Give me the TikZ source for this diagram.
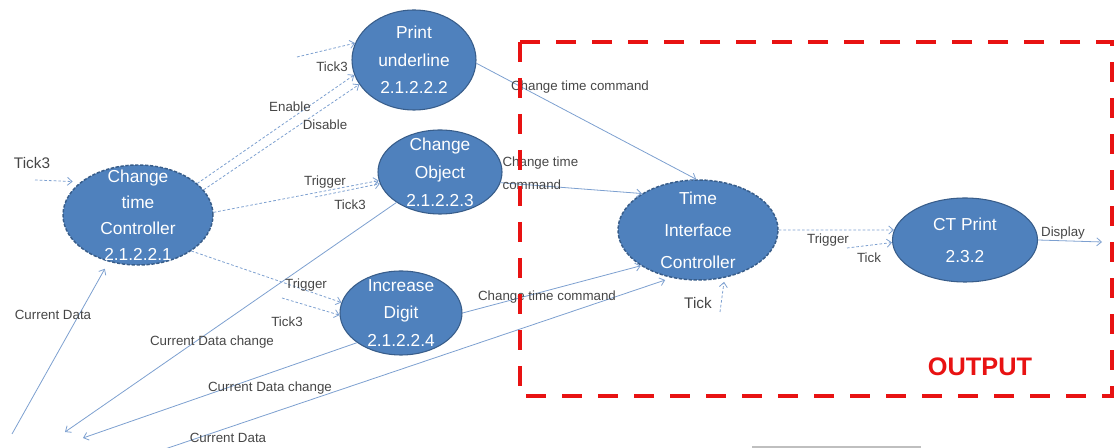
\documentclass[tikz,border=0pt]{standalone}
\usepackage{fontspec}
\setmainfont{Liberation Sans}
\usetikzlibrary{arrows.meta,shapes.geometric}
\definecolor{nodefill}{RGB}{79,129,189}
\definecolor{nodeline}{RGB}{56,93,138}
\definecolor{flow}{RGB}{125,160,208}
\definecolor{lbl}{RGB}{70,70,70}
\definecolor{outred}{RGB}{232,18,18}
\tikzset{
  proc/.style={ellipse, fill=nodefill, draw=nodeline, line width=0.8pt, inner sep=0pt},
  ctrl/.style={proc, dash pattern=on 2.5pt off 1.2pt, line width=1.1pt},
  ptext/.style={text=white, align=center, inner sep=0pt, font=\fontsize{13}{#1}\selectfont},
  flowline/.style={draw=flow, line width=0.6pt, -{Straight Barb[length=3.5pt,width=6pt]}},
  flowdash/.style={flowline, dash pattern=on 2pt off 1.5pt},
  lab/.style={text=lbl, font=\fontsize{10}{12}\selectfont, inner sep=1pt},
  biglab/.style={text=lbl, font=\fontsize{11.5}{13}\selectfont, inner sep=1pt},
}
\begin{document}
\begin{tikzpicture}[x=0.75pt,y=-0.75pt]
\useasboundingbox (0,0) rectangle (1115,448);
% processes
\node[ctrl, minimum width=112.5pt, minimum height=75pt,
  label={[ptext=19.5]center:{Change\\time\\Controller\\2.1.2.2.1}}] (ctc) at (138,215) {};
\node[proc, minimum width=93pt, minimum height=75pt,
  label={[ptext=20.6]center:{Print\\underline\\2.1.2.2.2}}] (pu) at (414,60) {};
\node[proc, minimum width=93pt, minimum height=63pt,
  label={[ptext=21]center:{Change\\Object\\2.1.2.2.3}}] (co) at (440,172) {};
\node[proc, minimum width=91.5pt, minimum height=63pt,
  label={[ptext=20.6]center:{Increase\\Digit\\2.1.2.2.4}}] (id) at (401,313) {};
\node[ctrl, minimum width=120pt, minimum height=75pt,
  label={[ptext=24]center:{Time\\Interface\\Controller}}] (tic) at (698,230) {};
\node[proc, minimum width=108.75pt, minimum height=63pt,
  label={[ptext=24]center:{CT Print\\2.3.2}}] (ctp) at (965,240) {};
% free ends
\coordinate (tin) at (35,180);
\coordinate (tpu) at (297,57);
\coordinate (tco) at (315,197);
\coordinate (tid) at (282,298);
\coordinate (cdsrc) at (12,434);
\coordinate (cdc1) at (65,432);
\coordinate (cdc2) at (83,438);
\coordinate (cdsrc2) at (165,449);
\coordinate (ttic) at (720,312);
\coordinate (tctp) at (847,248);
\coordinate (disp) at (1102,242);
% connectors
\draw[flowdash, shorten >=6pt] (tin) -- (ctc.150);
\draw[flowdash] (tpu) -- (pu.164);
\draw[flowdash] (ctc.28) -- (pu.194);
\draw[flowdash] (ctc.21) -- (pu.204);
\draw[flowdash] (ctc.2) -- (co.188);
\draw[flowdash] (tco) -- (co.191);
\draw[flowdash] (ctc.-34) -- (id.170);
\draw[flowdash] (tid) -- (id.182);
\draw[flowline, shorten >=6pt] (cdsrc) -- (ctc.238);
\draw[flowline] (co.215) -- (cdc1);
\draw[flowline] (id.214) -- (cdc2);
\draw[flowline, shorten >=5pt] (cdsrc2) -- (tic.241);
\draw[flowline] (pu.-3) -- (tic.92);
\draw[flowline] (co.-10) -- (tic.147);
\draw[flowline] (id.0) -- (tic.212);
\draw[flowdash, shorten >=3pt] (ttic) -- (tic.-61);
\draw[flowdash] (tic.0) -- (ctp.172);
\draw[flowdash] (tctp) -- (ctp.182);
\draw[flowline] (ctp.0) -- (disp);
% labels
\node[biglab] (l1) at (32,163) {Tick3};
\node[lab] (l2) at (332,67) {Tick3};
\node[lab] (l3) at (290,107) {Enable};
\node[lab] (l4) at (325,125) {Disable};
\node[lab] (l5) at (325,182) {Trigger};
\node[lab] (l6) at (350,205) {Tick3};
\node[lab] (l7) at (306,285) {Trigger};
\node[lab] (l8) at (287,322) {Tick3};
\node[lab] (l9) at (53,315) {Current Data};
\node[lab] (l10) at (212,342) {Current Data change};
\node[lab] (l11) at (270,388) {Current Data change};
\node[lab] (l12) at (228,438) {Current Data};
\node[lab] (l13) at (580,87) {Change time command};
\node[lab, anchor=west] (l14) at (501,163) {Change time};
\node[lab, anchor=west] (l15) at (501,185) {command};
\node[lab] (l16) at (547,297) {Change time command};
\node[biglab] (l17) at (698,303) {Tick};
\node[lab] (l18) at (828,240) {Trigger};
\node[lab] (l19) at (869,258) {Tick};
\node[lab] (l20) at (1063,233) {Display};
% output frame
\draw[outred, line width=3pt, dash pattern=on 15pt off 12pt] (520,42) rectangle (1112,396);
\node[text=outred, font=\bfseries\fontsize{19}{22}\selectfont] (out) at (980,367) {OUTPUT};
\draw[black!25, line width=0.8pt] (752,447) -- (921,447);
\end{tikzpicture}
\end{document}
